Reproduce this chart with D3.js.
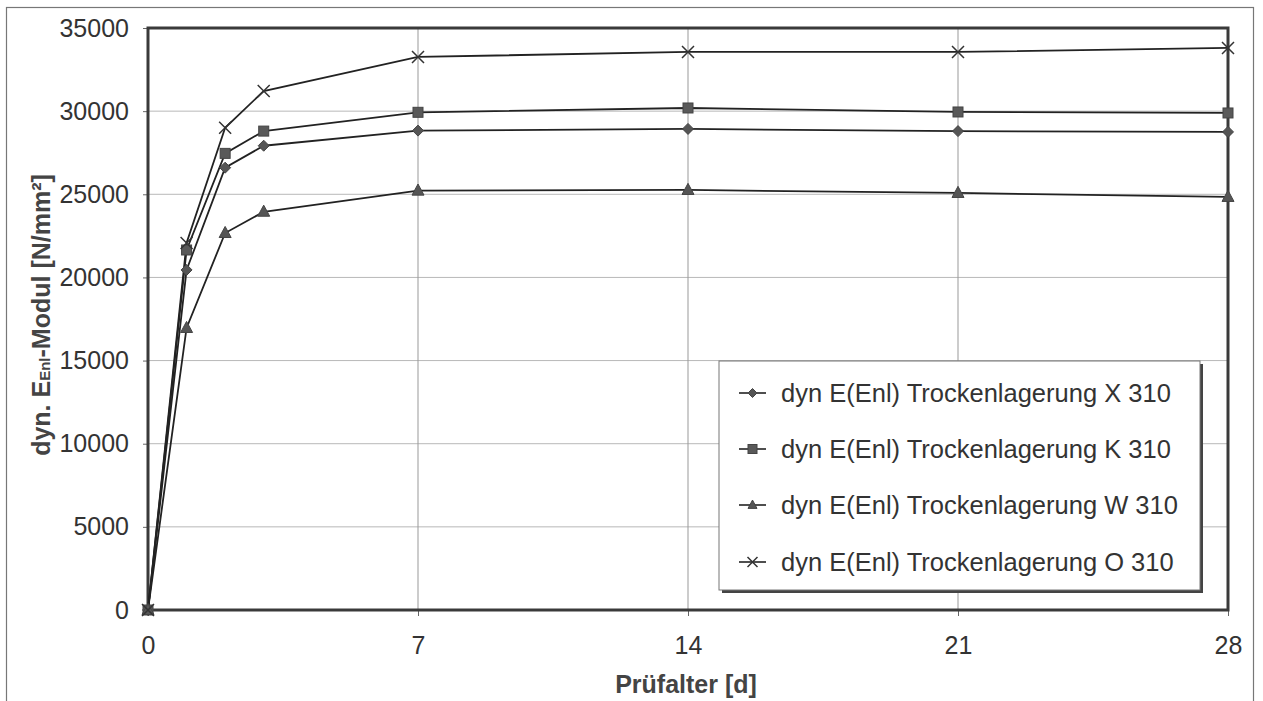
<!DOCTYPE html>
<html><head><meta charset="utf-8">
<script src="https://cdn.jsdelivr.net/npm/d3@7"></script>
<style>
html,body{margin:0;padding:0;background:#fff;}
svg{display:block;font-family:"Liberation Sans",Arial,sans-serif;}
</style></head>
<body>
<svg id="c" width="1263" height="701"></svg>
<script>
const days = [0, 1, 2, 3, 7, 14, 21, 28];
const xTicks = [0, 7, 14, 21, 28];
const yTicks = [0, 5000, 10000, 15000, 20000, 25000, 30000, 35000];
const seriesNames = [
  "dyn E(Enl) Trockenlagerung X 310",
  "dyn E(Enl) Trockenlagerung K 310",
  "dyn E(Enl) Trockenlagerung W 310",
  "dyn E(Enl) Trockenlagerung O 310"
];
const valuesX = [0, 20450, 26600, 27920, 28830, 28930, 28800, 28750];
const valuesK = [0, 21650, 27460, 28800, 29930, 30190, 29950, 29890];
const valuesW = [0, 16960, 22670, 23950, 25220, 25260, 25080, 24840];
const valuesO = [0, 22070, 29000, 31210, 33260, 33560, 33560, 33800];
const markers = ["diamond", "square", "triangle", "cross"];

const svg = d3.select("#c");
const L = 148, R = 1228, T = 28, B = 610;
const x = d3.scaleLinear().domain([0, 28]).range([L, R]);
const y = d3.scaleLinear().domain([0, 35000]).range([B, T]);

// outer frame
svg.append("rect").attr("x", 6.5).attr("y", 7.5).attr("width", 1247).attr("height", 720)
  .attr("fill", "none").attr("stroke", "#777").attr("stroke-width", 1.2);

// grid
svg.append("g").selectAll("line").data(yTicks.slice(1, -1)).join("line")
  .attr("x1", L).attr("x2", R).attr("y1", d => y(d)).attr("y2", d => y(d))
  .attr("stroke", "#b8b8b8").attr("stroke-width", 1);
svg.append("g").selectAll("line").data(xTicks.slice(1, -1)).join("line")
  .attr("y1", T).attr("y2", B).attr("x1", d => x(d)).attr("x2", d => x(d))
  .attr("stroke", "#999").attr("stroke-width", 1);

// axes
const xAxis = d3.axisBottom(x).tickValues(xTicks).tickSize(6).tickPadding(20).tickFormat(d3.format("d"));
const yAxis = d3.axisLeft(y).tickValues(yTicks).tickSize(5).tickPadding(14).tickFormat(d3.format("d"));
const gx = svg.append("g").attr("transform", `translate(0,${B})`).call(xAxis);
const gy = svg.append("g").attr("transform", `translate(${L},0)`).call(yAxis);
[gx, gy].forEach(g => {
  g.select(".domain").remove();
  g.selectAll(".tick line").attr("stroke", "#666");
  g.selectAll(".tick text").attr("fill", "#333").style("font-size", "25px")
    .style("font-family", "Liberation Sans, Arial, sans-serif");
});
gx.selectAll(".tick text").attr("dy", "0.71em");

// plot border
svg.append("rect").attr("x", L).attr("y", T).attr("width", R - L).attr("height", B - T)
  .attr("fill", "none").attr("stroke", "#3a3a3a").attr("stroke-width", 3);

// series
const all = [valuesX, valuesK, valuesW, valuesO];
const line = d3.line().x((d, i) => x(days[i])).y(d => y(d));
function drawMarker(g, type, cx, cy, s) {
  if (type === "diamond") {
    g.append("path").attr("d", `M${cx},${cy - s}L${cx + s},${cy}L${cx},${cy + s}L${cx - s},${cy}Z`)
      .attr("fill", "#555").attr("stroke", "#444").attr("stroke-width", 1);
  } else if (type === "square") {
    g.append("rect").attr("x", cx - s).attr("y", cy - s).attr("width", 2 * s).attr("height", 2 * s)
      .attr("fill", "#595959").attr("stroke", "#444").attr("stroke-width", 1);
  } else if (type === "triangle") {
    g.append("path").attr("d", `M${cx},${cy - s * 1.1}L${cx + s},${cy + s * 0.75}L${cx - s},${cy + s * 0.75}Z`)
      .attr("fill", "#555").attr("stroke", "#444").attr("stroke-width", 1);
  } else {
    g.append("path").attr("d", `M${cx - s},${cy - s}L${cx + s},${cy + s}M${cx - s},${cy + s}L${cx + s},${cy - s}`)
      .attr("fill", "none").attr("stroke", "#333").attr("stroke-width", 1.5);
  }
}
const sizes = [5.5, 5, 6, 6];
all.forEach((vals, si) => {
  svg.append("path").datum(vals).attr("d", line).attr("fill", "none")
    .attr("stroke", "#222").attr("stroke-width", 1.8);
});
all.forEach((vals, si) => {
  const g = svg.append("g");
  vals.forEach((v, i) => drawMarker(g, markers[si], x(days[i]), y(v), sizes[si]));
});

// legend
const lg = svg.append("g");
const lx = 719, ly = 361, lw = 481, lh = 229;
lg.append("rect").attr("x", lx + 3).attr("y", ly + 3).attr("width", lw).attr("height", lh).attr("fill", "#444");
lg.append("rect").attr("x", lx).attr("y", ly).attr("width", lw).attr("height", lh)
  .attr("fill", "#fff").attr("stroke", "#777").attr("stroke-width", 1);
const rowY = [393, 449, 505, 562];
seriesNames.forEach((name, i) => {
  const cy = rowY[i];
  lg.append("line").attr("x1", 739).attr("x2", 766).attr("y1", cy).attr("y2", cy)
    .attr("stroke", "#222").attr("stroke-width", 1.6);
  drawMarker(lg, markers[i], 752.5, cy, i === 3 ? 5 : 4.5);
  lg.append("text").attr("x", 781).attr("y", cy).attr("dy", "0.35em")
    .attr("fill", "#333").style("font-size", "25.5px").text(name);
});

// axis titles
svg.append("text").attr("x", 686).attr("y", 693).attr("text-anchor", "middle")
  .attr("fill", "#444").style("font-size", "25px").style("font-weight", "bold").text("Prüfalter [d]");
const yt = svg.append("text").attr("transform", "translate(50,315) rotate(-90)").attr("text-anchor", "middle")
  .attr("fill", "#444").style("font-size", "25px").style("font-weight", "bold");
yt.append("tspan").text("dyn. E");
yt.append("tspan").style("font-size", "15px").text("Enl");
yt.append("tspan").text("-Modul [N/mm²]");
</script>
</body></html>
